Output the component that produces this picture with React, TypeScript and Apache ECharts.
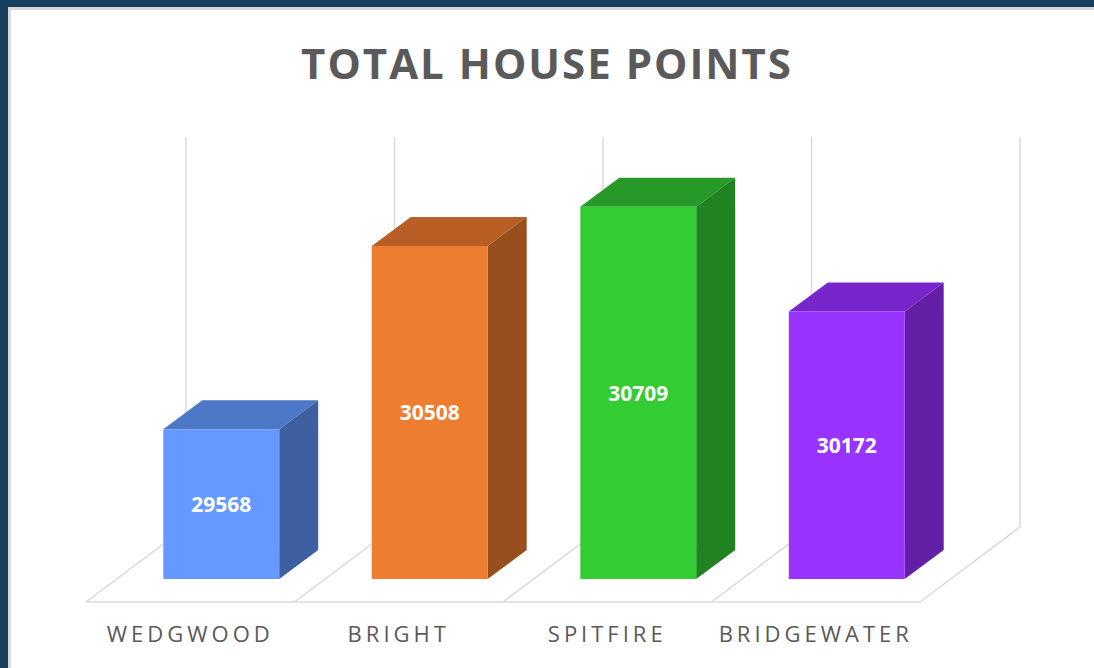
import React, { useEffect, useRef } from 'react';
import * as echarts from 'echarts';

const houses = ['WEDGWOOD', 'BRIGHT', 'SPITFIRE', 'BRIDGEWATER'];
const points = [29568, 30508, 30709, 30172];
const frontColors = ['#6699ff', '#ed7d31', '#33cc33', '#9933ff'];
const topColors = ['#4d78c8', '#b75f24', '#279a29', '#7826cc'];
const sideColors = ['#3e60a3', '#984f1d', '#218222', '#631fa6'];
const axisMin = 28800;
const axisMax = 30800;
const titleText = 'TOTAL HOUSE POINTS';

// 3D projection offsets (pixels)
const FLOOR_DX = 100;
const FLOOR_DY = -75;
const BAR_OFF_X = 31;
const BAR_OFF_Y = -23;
const BAR_DX = 39;
const BAR_DY = -29;
const BAR_RATIO = 0.556;
const GRID_COLOR = '#d9d9d9';

export default function App() {
  const ref = useRef<HTMLDivElement>(null);
  useEffect(() => {
    if (!ref.current) return;
    const chart = echarts.init(ref.current, undefined, { renderer: 'svg' });
    const last = houses.length - 1;
    const line = (x1: number, y1: number, x2: number, y2: number) => ({
      type: 'line',
      shape: { x1, y1, x2, y2 },
      style: { stroke: GRID_COLOR, lineWidth: 1.5 },
    });
    chart.setOption({
      animation: false,
      backgroundColor: '#163f5f',
      graphic: [
        {
          type: 'rect',
          z: -10,
          shape: { x: 9.5, y: 8.5, width: 1200, height: 800 },
          style: { fill: '#ffffff', stroke: '#d8d8d8', lineWidth: 3 },
        },
      ],
      title: {
        text: titleText,
        left: 'center',
        top: 36,
        textStyle: { fontSize: 42, fontWeight: 'bold', color: '#5a5a5a', fontFamily: 'Open Sans' },
      },
      grid: { left: 86, right: 174, top: 212, bottom: 66 },
      xAxis: {
        type: 'category',
        data: houses,
        axisLine: { show: false },
        axisTick: { show: false },
        splitLine: { show: false },
        axisLabel: { color: '#595959', fontSize: 22, fontFamily: 'Open Sans', margin: 20 },
      },
      yAxis: {
        type: 'value',
        min: axisMin,
        max: axisMax,
        show: false,
        splitLine: { show: false },
      },
      series: [
        {
          type: 'custom',
          clip: false,
          z: 1,
          silent: true,
          data: houses.map((_, i) => [i, axisMin]),
          renderItem: (params: any, api: any) => {
            const i = api.value(0);
            const c = api.coord([i, axisMin]);
            const topY = api.coord([i, axisMax])[1];
            const bw = api.size([1, 0])[0];
            const xl = c[0] - bw / 2;
            const y0 = c[1];
            const children: any[] = [
              line(xl, y0, xl + FLOOR_DX, y0 + FLOOR_DY),
              line(xl + FLOOR_DX, topY + FLOOR_DY, xl + FLOOR_DX, y0 + FLOOR_DY),
              line(xl, y0, xl + bw, y0),
            ];
            if (i === last) {
              const xr = xl + bw;
              children.push(line(xr, y0, xr + FLOOR_DX, y0 + FLOOR_DY));
              children.push(line(xr + FLOOR_DX, topY + FLOOR_DY, xr + FLOOR_DX, y0 + FLOOR_DY));
            }
            return { type: 'group', children };
          },
        },
        {
          type: 'custom',
          clip: false,
          z: 2,
          data: points.map((v, i) => [i, v]),
          renderItem: (params: any, api: any) => {
            const i = api.value(0);
            const v = api.value(1);
            const top = api.coord([i, v]);
            const base = api.coord([i, axisMin]);
            const w = api.size([1, 0])[0] * BAR_RATIO;
            const x0 = top[0] - w / 2 + BAR_OFF_X;
            const x1 = x0 + w;
            const yt = top[1] + BAR_OFF_Y;
            const yb = base[1] + BAR_OFF_Y;
            return {
              type: 'group',
              children: [
                {
                  type: 'polygon',
                  shape: { points: [[x0, yt], [x1, yt], [x1 + BAR_DX, yt + BAR_DY], [x0 + BAR_DX, yt + BAR_DY]] },
                  style: { fill: topColors[i] },
                },
                {
                  type: 'polygon',
                  shape: { points: [[x1, yt], [x1 + BAR_DX, yt + BAR_DY], [x1 + BAR_DX, yb + BAR_DY], [x1, yb]] },
                  style: { fill: sideColors[i] },
                },
                {
                  type: 'rect',
                  shape: { x: x0, y: yt, width: w, height: yb - yt },
                  style: { fill: frontColors[i] },
                },
                {
                  type: 'text',
                  style: {
                    text: String(points[i]),
                    x: (x0 + x1) / 2,
                    y: (yt + yb) / 2,
                    align: 'center',
                    verticalAlign: 'middle',
                    fill: '#ffffff',
                    font: 'bold 21px "Open Sans"',
                  },
                },
              ],
            };
          },
        },
      ],
    });
    return () => chart.dispose();
  }, []);
  return (
    <>
      <style>{`#hp-chart svg text[fill="#595959"]{letter-spacing:4px;} #hp-chart svg text[fill="#5a5a5a"]{letter-spacing:2px;}`}</style>
      <div
        id="hp-chart"
        ref={ref}
        style={{ position: 'fixed', left: 0, top: 0, width: 1094, height: 668 }}
      />
    </>
  );
}
